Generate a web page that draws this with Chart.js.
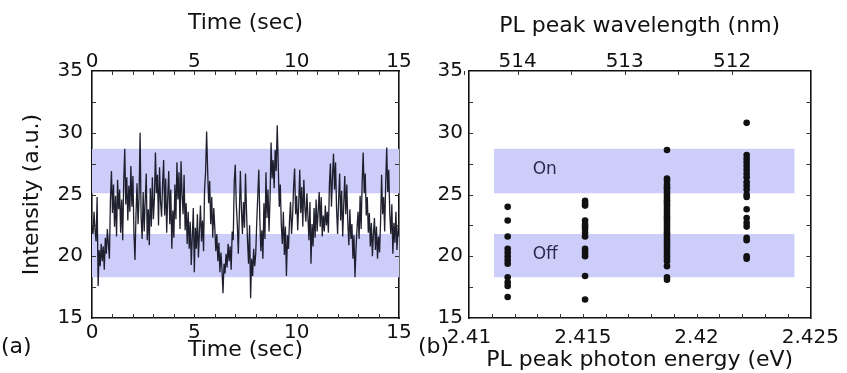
<!DOCTYPE html>
<html>
<head>
<meta charset="utf-8">
<script src="https://cdn.jsdelivr.net/npm/chart.js@4.4.1/dist/chart.umd.min.js"></script>
<style>
  body { margin: 0; background: #fff; }
  #wrap { position: relative; width: 847px; height: 373px; overflow: hidden; }
  .panel { position: absolute; top: 0; height: 373px; }
  #panelA { left: 0; width: 420px; }
  #panelB { left: 420px; width: 427px; }
  .tag { position: absolute; top: 333px; font: 22px 'DejaVu Sans', sans-serif; color: #111; }
</style>
</head>
<body>
<div id="wrap">
  <div class="panel" id="panelA"><canvas id="trace-chart"></canvas></div>
  <div class="panel" id="panelB"><canvas id="peak-chart"></canvas></div>
  <div class="tag" style="left:1px">(a)</div>
  <div class="tag" style="left:418px">(b)</div>
</div>
<script>
// PL intensity trace, one sample every 50 ms from 0 to 15 s
const sampleStep = 0.05;
const intensityTrace = [
  22.4, 21.8, 23.6, 22.0, 21.2, 24.8, 17.6, 20.5, 19.2, 21.0,
  19.6, 20.8, 18.9, 21.5, 20.2, 22.2, 21.0, 19.8, 24.6, 26.9,
  23.5, 25.8, 22.4, 24.9, 21.6, 26.2, 23.8, 25.4, 21.9, 24.6,
  21.3, 26.0, 28.7, 24.2, 26.4, 22.9, 25.7, 23.6, 27.3, 24.0,
  26.5, 21.8, 19.7, 23.4, 25.9, 22.6, 24.8, 30.0, 23.1, 21.4,
  25.2, 22.0, 24.6, 26.7, 21.3, 23.8, 20.9, 25.5, 22.4, 26.4,
  23.0, 24.7, 28.4, 25.1, 26.6, 22.5, 27.2, 24.4, 23.2, 25.9,
  27.8, 23.3, 26.3, 21.9, 24.8, 26.9, 22.6, 25.4, 20.6, 23.7,
  21.5, 25.8, 23.0, 27.6, 24.6, 26.8, 22.2, 27.7, 25.0, 23.4,
  26.6, 22.1, 24.3, 21.0, 23.6, 20.6, 22.8, 19.3, 21.6, 23.9,
  18.7, 22.3, 20.6, 23.4, 19.9, 22.0, 24.1, 21.2, 22.9, 20.4,
  25.4, 26.8, 30.1, 27.0, 24.3, 26.1, 22.6, 24.8, 21.5, 23.9,
  22.3, 20.4, 21.8, 19.6, 21.1, 18.7, 20.3, 19.0, 17.0, 19.4,
  18.6, 20.2, 19.1, 21.0, 19.6, 20.8, 18.9, 22.0, 21.3, 26.0,
  27.4, 24.2, 22.6, 20.2, 23.5, 26.9, 23.8, 21.8, 24.4, 22.3,
  26.7, 23.6, 21.2, 19.4, 22.5, 16.6, 19.8, 18.4, 20.6, 19.2,
  20.2, 22.8, 24.9, 27.0, 23.0, 20.4, 22.1, 19.8, 24.3, 21.4,
  26.8, 23.1, 25.4, 22.0, 24.7, 29.2, 26.3, 27.8, 25.5, 28.6,
  26.9, 30.6, 27.4, 24.0, 25.8, 22.5, 21.0, 23.6, 20.1, 22.4,
  18.4, 21.7, 20.6, 22.9, 24.4, 21.8, 23.2, 25.6, 27.1, 23.4,
  24.9, 22.1, 24.2, 27.0, 23.5, 25.6, 22.4, 26.2, 24.0, 22.8,
  25.1, 23.2, 21.3, 24.4, 19.4, 22.6, 20.8, 23.9, 21.5, 24.6,
  22.0, 23.6, 25.2, 22.4, 24.8, 21.6, 23.3, 22.0, 24.1, 22.5,
  23.6, 21.9, 25.8, 27.5, 24.0, 26.4, 28.3, 25.4, 27.6, 23.8,
  21.8, 24.6, 26.7, 22.9, 25.3, 21.6, 24.2, 26.5, 23.4, 25.8,
  22.7, 20.9, 23.8, 21.4, 22.6, 19.8, 21.7, 18.3, 20.6, 22.3,
  23.6, 21.4, 24.9, 22.2, 26.0, 28.4, 25.1, 26.7, 23.3, 24.8,
  21.9, 23.5, 20.8, 22.7, 20.0, 21.8, 23.1, 20.5, 22.4, 19.8,
  21.6, 20.3, 22.8, 26.6, 23.4, 24.8, 22.0, 25.9, 28.8, 25.2,
  27.0, 23.4, 21.8, 24.2, 20.2, 22.7, 21.1, 23.6, 20.5, 22.1,
  21.6
];

// PL peak photon energy (eV) of each spectral group and the intensities measured there
const peakEnergies = [2.4117, 2.4151, 2.4187, 2.4222];
const intensityAt2_4117 = [24.0, 22.9, 21.6, 20.6, 20.3, 20.0, 19.7, 19.4, 18.3, 17.9, 17.6, 16.7];
const intensityAt2_4151 = [24.5, 24.3, 24.1, 22.9, 22.6, 22.4, 22.2, 21.9, 21.6, 20.6, 20.4, 20.2, 20.0, 18.4, 16.5];
const intensityAt2_4187 = [28.6, 26.3, 26.1, 25.8, 25.6, 25.5, 25.3, 25.1, 24.9, 24.7, 24.5, 24.4, 24.2,
  24.0, 23.8, 23.6, 23.4, 23.2, 23.1, 22.9, 22.7, 22.5, 22.3, 22.1, 21.9, 21.8, 21.6, 21.4, 21.2,
  21.0, 20.8, 20.6, 20.4, 20.2, 20.0, 19.8, 19.6, 19.2, 18.3, 18.1];
const intensityAt2_4222 = [30.8, 28.2, 27.9, 27.6, 27.3, 27.0, 26.7, 26.4, 26.0, 25.7, 25.4, 25.0, 24.8,
  23.8, 23.1, 22.7, 22.4, 21.5, 21.3, 20.0, 19.8];
const peakGroups = [intensityAt2_4117, intensityAt2_4151, intensityAt2_4187, intensityAt2_4222];

// "On" and "Off" intensity windows
const bandNames = ['On', 'Off'];
const bandRanges = [[25.1, 28.7], [18.3, 21.8]];
const bandEnergySpan = [2.4111, 2.4243];
const bandLabelEnergy = 2.4128;
const bandLabelIntensity = [27.0, 20.1];

// top axis of (b): wavelength ticks in nm
const wavelengthTicks = [514, 513, 512];
const wavelengthMinor = [514.5, 513.5, 512.5];
const hc = 1239.84; // eV*nm

Chart.defaults.font.family = "'DejaVu Sans', sans-serif";
Chart.defaults.color = '#111';

const tickFont = { size: 20 };
const titleFont = { size: 22 };
const frame = { display: true, color: '#111', width: 1.6 };

// shaded windows behind the data
const bands = {
  id: 'bands',
  beforeDatasetsDraw(chart, args, opts) {
    const { ctx, chartArea: a, scales } = chart;
    const x = scales.x;
    const y = scales.y;
    const left = opts.span ? x.getPixelForValue(opts.span[0]) : a.left;
    const right = opts.span ? x.getPixelForValue(opts.span[1]) : a.right;
    ctx.save();
    ctx.fillStyle = 'rgb(205, 205, 250)';
    bandRanges.forEach(r => {
      const top = y.getPixelForValue(r[1]);
      const bottom = y.getPixelForValue(r[0]);
      ctx.fillRect(left, top, right - left, bottom - top);
    });
    if (opts.labels) {
      ctx.fillStyle = '#2a2a50';
      ctx.font = "17px 'DejaVu Sans', sans-serif";
      ctx.textBaseline = 'middle';
      bandNames.forEach((name, i) => {
        ctx.fillText(name, x.getPixelForValue(bandLabelEnergy), y.getPixelForValue(bandLabelIntensity[i]));
      });
    }
    ctx.restore();
  }
};

// small ticks pointing into the plot area
const innerTicks = {
  id: 'innerTicks',
  afterDraw(chart, args, opts) {
    const { ctx, chartArea: a } = chart;
    ctx.save();
    ctx.strokeStyle = '#333';
    ctx.lineWidth = 1;
    ctx.beginPath();
    (opts.marks || []).forEach(m => {
      const s = chart.scales[m.scale];
      m.values.forEach(v => {
        const p = Math.round(s.getPixelForValue(v)) + 0.5;
        if (s.position === 'top') { ctx.moveTo(p, a.top); ctx.lineTo(p, a.top + m.len); }
        else if (s.position === 'bottom') { ctx.moveTo(p, a.bottom); ctx.lineTo(p, a.bottom - m.len); }
        else if (s.position === 'left') { ctx.moveTo(a.left, p); ctx.lineTo(a.left + m.len, p); }
        else { ctx.moveTo(a.right, p); ctx.lineTo(a.right - m.len, p); }
      });
    });
    ctx.stroke();
    ctx.restore();
  }
};

const seconds = [];
for (let s = 1; s < 15; s++) seconds.push(s);
const yTicks = [17.5, 20, 22.5, 25, 27.5, 30, 32.5];
const energyTicks = [];
for (let k = 1; k < 15; k++) energyTicks.push(2.41 + k * 0.001);

// (a) intensity versus time
new Chart(document.getElementById('trace-chart'), {
  type: 'line',
  data: {
    datasets: [{
      data: intensityTrace.map((v, i) => ({ x: i * sampleStep, y: v })),
      borderColor: 'rgba(20, 20, 35, 0.95)',
      borderWidth: 1.3,
      pointRadius: 0,
      tension: 0
    }]
  },
  options: {
    responsive: true,
    maintainAspectRatio: false,
    animation: false,
    layout: { padding: 0 },
    plugins: {
      legend: { display: false },
      tooltip: { enabled: false },
      bands: {},
      innerTicks: {
        marks: [
          { scale: 'x', values: seconds, len: 4 },
          { scale: 'x2', values: seconds, len: 4 },
          { scale: 'y', values: yTicks, len: 4 },
          { scale: 'y2', values: yTicks, len: 4 }
        ]
      }
    },
    scales: {
      x: {
        type: 'linear', position: 'bottom', min: 0, max: 15,
        grid: { display: false, drawTicks: false }, border: frame,
        ticks: { stepSize: 5, font: tickFont, padding: 3 },
        title: { display: true, text: 'Time (sec)', font: titleFont, padding: { top: 0, bottom: 10 } },
        afterFit: s => { s.height = 55; }
      },
      x2: {
        type: 'linear', position: 'top', min: 0, max: 15,
        grid: { display: false, drawTicks: false }, border: frame,
        ticks: { stepSize: 5, font: tickFont, padding: -3 },
        title: { display: true, text: 'Time (sec)', font: titleFont, padding: { top: 10, bottom: 0 } },
        afterFit: s => { s.height = 71; }
      },
      y: {
        type: 'linear', position: 'left', min: 15, max: 35,
        grid: { display: false, drawTicks: false }, border: frame,
        ticks: { stepSize: 5, font: tickFont, padding: 9 },
        title: { display: true, text: 'Intensity (a.u.)', font: titleFont, padding: { top: 19, bottom: 0 } },
        afterFit: s => { s.width = 92; }
      },
      y2: {
        type: 'linear', position: 'right', min: 15, max: 35,
        grid: { display: false, drawTicks: false }, border: frame,
        ticks: { display: false },
        afterFit: s => { s.width = 21; }
      }
    }
  },
  plugins: [bands, innerTicks]
});

// (b) intensity versus PL peak energy
new Chart(document.getElementById('peak-chart'), {
  type: 'scatter',
  data: {
    datasets: [{
      data: peakGroups.flatMap((group, i) => group.map(v => ({ x: peakEnergies[i], y: v }))),
      backgroundColor: '#111',
      borderWidth: 0,
      pointRadius: 3.3
    }]
  },
  options: {
    responsive: true,
    maintainAspectRatio: false,
    animation: false,
    layout: { padding: 0 },
    plugins: {
      legend: { display: false },
      tooltip: { enabled: false },
      bands: { span: bandEnergySpan, labels: true },
      innerTicks: {
        marks: [
          { scale: 'x', values: energyTicks, len: 4 },
          { scale: 'x2', values: wavelengthTicks.concat(wavelengthMinor).map(nm => hc / nm), len: 4 },
          { scale: 'y', values: yTicks, len: 4 },
          { scale: 'y2', values: yTicks, len: 4 }
        ]
      }
    },
    scales: {
      x: {
        type: 'linear', position: 'bottom', min: 2.41, max: 2.425,
        grid: { display: false, drawTicks: false }, border: frame,
        ticks: { stepSize: 0.005, font: tickFont, padding: 8, callback: v => String(Number(v.toFixed(3))) },
        title: { display: true, text: 'PL peak photon energy (eV)', font: titleFont, padding: { top: 0, bottom: 0 } },
        afterFit: s => { s.height = 55; }
      },
      x2: {
        type: 'linear', position: 'top', min: 2.41, max: 2.425,
        grid: { display: false, drawTicks: false }, border: frame,
        afterBuildTicks: s => { s.ticks = wavelengthTicks.map(nm => ({ value: hc / nm })); },
        ticks: { font: tickFont, padding: -3, callback: (v, i) => String(wavelengthTicks[i]) },
        title: { display: true, text: 'PL peak wavelength (nm)', font: titleFont, padding: { top: 13, bottom: 0 } },
        afterFit: s => { s.height = 71; }
      },
      y: {
        type: 'linear', position: 'left', min: 15, max: 35,
        grid: { display: false, drawTicks: false }, border: frame,
        ticks: { stepSize: 5, font: tickFont, padding: 6 },
        afterFit: s => { s.width = 49; }
      },
      y2: {
        type: 'linear', position: 'right', min: 15, max: 35,
        grid: { display: false, drawTicks: false }, border: frame,
        ticks: { display: false },
        afterFit: s => { s.width = 28; }
      }
    }
  },
  plugins: [bands, innerTicks]
});
</script>
</body>
</html>
